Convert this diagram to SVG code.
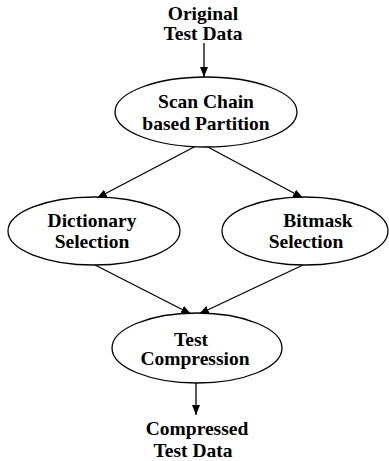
<svg xmlns="http://www.w3.org/2000/svg" width="389" height="461" viewBox="0 0 389 461">
  <defs>
    <marker id="arrow" viewBox="0 0 10 8" refX="10" refY="4" markerWidth="10" markerHeight="8" markerUnits="userSpaceOnUse" orient="auto">
      <path d="M0,0 L10,4 L0,8 Z" fill="#000"/>
    </marker>
  </defs>
  <style>
    .node { fill: #fff; stroke: #000; stroke-width: 1.3; }
    .edge { stroke: #000; stroke-width: 1.3; fill: none; marker-end: url(#arrow); }
  </style>
  <rect width="389" height="461" fill="#fff"/>

  <g id="connectors">
    <line class="edge" x1="204" y1="43" x2="204" y2="77"/>
    <line class="edge" x1="196" y1="146" x2="97" y2="198"/>
    <line class="edge" x1="206" y1="146" x2="303" y2="198"/>
    <line class="edge" x1="95" y1="265" x2="191" y2="314"/>
    <line class="edge" x1="303" y1="265" x2="199" y2="314"/>
    <line class="edge" x1="196" y1="383" x2="196" y2="415"/>
  </g>

  <!-- all labels: bold serif, centred -->
  <g font-family="'Liberation Serif', 'Times New Roman', serif" font-weight="bold" font-size="19.5" text-anchor="middle" fill="#000">
    <g id="input">
      <text x="203" y="20">Original</text>
      <text x="203" y="40">Test Data</text>
    </g>

    <g id="partition">
      <ellipse class="node" cx="206" cy="112" rx="91" ry="35"/>
      <text x="206" y="108">Scan Chain</text>
      <text x="206" y="130">based Partition</text>
    </g>

    <g id="dictionary">
      <ellipse class="node" cx="94" cy="231" rx="86" ry="34"/>
      <text x="92" y="227">Dictionary</text>
      <text x="92" y="248">Selection</text>
    </g>

    <g id="bitmask">
      <ellipse class="node" cx="305" cy="231" rx="83" ry="34"/>
      <text x="318" y="227">Bitmask</text>
      <text x="306" y="248">Selection</text>
    </g>

    <g id="compression">
      <ellipse class="node" cx="197" cy="348" rx="85" ry="35"/>
      <text x="191" y="346">Test</text>
      <text x="195" y="365">Compression</text>
    </g>

    <g id="output">
      <text x="197" y="435">Compressed</text>
      <text x="193" y="457">Test Data</text>
    </g>
  </g>
</svg>
